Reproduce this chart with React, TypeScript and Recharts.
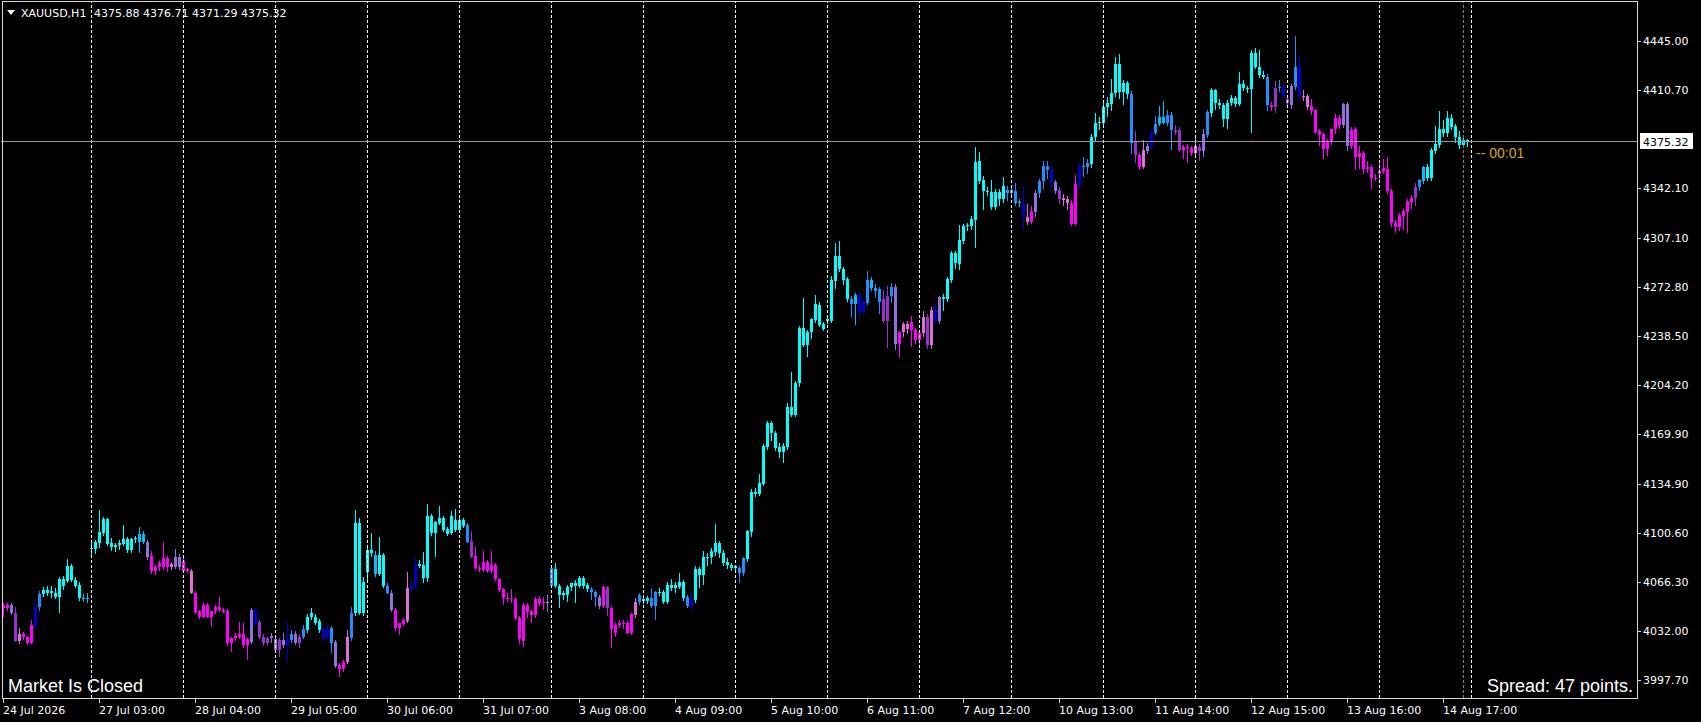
import React from "react";
import { ComposedChart, Bar, XAxis, YAxis, ReferenceLine } from "recharts";

// one candle = [open, high, low, close], H1 bars of XAUUSD
type Candle = [number, number, number, number];

const jul24: Candle[] = [
  [4048.0, 4051.5, 4042.2, 4050.4], [4050.4, 4051.8, 4046.0, 4048.0], [4050.4, 4052.0, 4043.5, 4044.5], [4044.5, 4049.2, 4024.5, 4025.4],
  [4025.4, 4034.0, 4023.0, 4030.1], [4030.1, 4031.5, 4026.0, 4027.8], [4027.8, 4029.0, 4022.5, 4023.5], [4023.5, 4039.9, 4022.8, 4036.4],
  [4035.9, 4053.8, 4034.5, 4048.7], [4048.7, 4060.0, 4046.0, 4058.1], [4058.1, 4063.0, 4056.0, 4060.9], [4060.9, 4064.0, 4057.0, 4059.0],
  [4059.0, 4063.5, 4055.5, 4060.4], [4059.0, 4062.0, 4054.5, 4056.2], [4056.2, 4070.0, 4044.5, 4068.6], [4068.6, 4070.5, 4061.0, 4063.7],
  [4067.4, 4082.5, 4066.0, 4077.9], [4077.9, 4079.0, 4066.5, 4067.9], [4067.9, 4070.0, 4062.5, 4063.9], [4064.4, 4066.5, 4053.0, 4055.0],
  [4055.0, 4058.0, 4052.5, 4055.5], [4055.5, 4058.5, 4051.5, 4054.3],
];
const jul27: Candle[] = [
  [4090.3, 4094.7, 4084.2, 4090.3], [4089.8, 4096.0, 4086.0, 4094.5], [4094.0, 4116.9, 4090.0, 4101.5], [4100.6, 4112.2, 4099.0, 4110.6],
  [4110.6, 4111.5, 4092.0, 4093.1], [4094.0, 4097.0, 4088.5, 4090.8], [4090.8, 4094.0, 4087.5, 4092.4], [4092.4, 4096.0, 4089.0, 4094.0],
  [4093.1, 4106.4, 4091.5, 4096.6], [4096.4, 4098.0, 4087.0, 4088.9], [4088.9, 4097.5, 4086.5, 4096.4], [4096.4, 4099.0, 4093.5, 4097.1],
  [4094.5, 4105.2, 4086.6, 4100.1], [4100.1, 4102.0, 4093.0, 4094.5], [4094.5, 4096.0, 4082.0, 4083.8], [4084.7, 4088.0, 4072.0, 4074.4],
  [4074.4, 4078.5, 4071.5, 4077.2], [4076.7, 4081.0, 4074.0, 4079.6], [4077.2, 4094.7, 4075.0, 4083.3], [4083.3, 4085.0, 4073.5, 4077.2],
  [4077.2, 4080.5, 4075.0, 4079.1], [4076.7, 4089.8, 4075.5, 4084.0], [4084.0, 4086.0, 4075.0, 4076.7],
];
const jul28: Candle[] = [
  [4081.4, 4083.0, 4073.0, 4074.4], [4074.4, 4076.0, 4072.5, 4075.4], [4074.2, 4075.5, 4058.0, 4059.0], [4058.5, 4060.0, 4044.0, 4045.7],
  [4045.9, 4047.0, 4040.5, 4042.2], [4042.2, 4052.0, 4041.0, 4050.4], [4050.4, 4051.5, 4041.0, 4042.2], [4042.2, 4046.5, 4035.2, 4045.9],
  [4045.9, 4050.5, 4044.0, 4049.2], [4049.2, 4056.2, 4045.5, 4046.9], [4046.9, 4048.5, 4044.5, 4045.7], [4046.2, 4047.5, 4022.0, 4023.5],
  [4023.5, 4028.0, 4017.7, 4027.1], [4027.1, 4030.5, 4025.5, 4028.9], [4028.2, 4038.7, 4026.5, 4030.1], [4030.1, 4037.5, 4020.5, 4022.4],
  [4022.4, 4027.0, 4011.9, 4026.3], [4024.7, 4048.0, 4023.0, 4046.9], [4046.9, 4048.5, 4036.5, 4038.0], [4038.5, 4040.0, 4026.5, 4028.2],
  [4028.2, 4030.0, 4022.0, 4023.5], [4023.5, 4028.0, 4021.5, 4027.1], [4027.1, 4030.5, 4024.0, 4028.7],
];
const jul29: Candle[] = [
  [4026.3, 4029.0, 4016.5, 4018.9], [4018.9, 4027.5, 4014.0, 4025.9], [4025.9, 4031.0, 4020.5, 4022.4], [4021.7, 4038.7, 4010.7, 4026.3],
  [4025.9, 4033.0, 4024.0, 4030.1], [4030.1, 4032.0, 4022.5, 4024.0], [4024.0, 4030.0, 4020.5, 4028.2], [4028.2, 4036.5, 4026.5, 4033.6],
  [4032.9, 4044.0, 4031.0, 4042.2], [4041.7, 4048.0, 4040.0, 4044.5], [4042.2, 4044.0, 4036.5, 4038.0], [4039.2, 4040.5, 4031.0, 4032.9],
  [4033.6, 4035.0, 4026.0, 4027.5], [4027.5, 4036.5, 4026.0, 4033.6], [4034.3, 4035.5, 4017.0, 4024.0], [4024.5, 4026.0, 4006.0, 4007.9],
  [4008.4, 4010.0, 4000.0, 4005.8], [4005.8, 4012.0, 4003.5, 4010.5], [4010.5, 4033.0, 4009.0, 4027.8], [4027.5, 4048.7, 4025.5, 4044.5],
  [4044.5, 4116.9, 4043.0, 4107.6], [4107.6, 4111.0, 4043.5, 4045.0], [4045.0, 4070.0, 4043.0, 4066.7],
];
const jul30: Candle[] = [
  [4073.7, 4090.5, 4066.0, 4088.9], [4088.9, 4100.8, 4084.0, 4086.6], [4085.4, 4088.0, 4070.0, 4072.1], [4072.1, 4097.7, 4070.5, 4085.4],
  [4085.4, 4087.0, 4062.5, 4063.9], [4063.9, 4066.0, 4058.0, 4059.0], [4059.0, 4061.0, 4045.5, 4046.9], [4046.9, 4048.0, 4032.5, 4034.0],
  [4034.0, 4038.0, 4029.4, 4037.5], [4037.1, 4041.0, 4035.5, 4039.9], [4039.4, 4073.7, 4037.5, 4062.5], [4061.6, 4067.0, 4060.5, 4064.4],
  [4063.9, 4083.8, 4062.5, 4079.1], [4079.1, 4082.0, 4076.0, 4077.7], [4078.4, 4087.7, 4065.5, 4069.1], [4069.1, 4121.1, 4066.5, 4112.7],
  [4112.7, 4114.0, 4099.0, 4100.6], [4100.6, 4109.5, 4084.2, 4108.7], [4108.0, 4119.7, 4106.5, 4111.5], [4111.1, 4113.0, 4101.5, 4102.9],
  [4103.4, 4105.0, 4098.5, 4099.9], [4100.6, 4116.2, 4099.5, 4112.7], [4109.9, 4117.4, 4101.5, 4102.9],
];
const jul31: Candle[] = [
  [4102.9, 4111.5, 4101.0, 4109.9], [4109.9, 4111.5, 4104.5, 4105.9], [4106.4, 4108.0, 4093.5, 4094.7], [4095.2, 4102.2, 4083.0, 4084.2],
  [4084.7, 4091.2, 4075.0, 4076.5], [4076.5, 4078.5, 4073.5, 4075.4], [4074.9, 4088.2, 4073.5, 4080.7], [4080.7, 4082.0, 4073.0, 4074.4],
  [4074.4, 4088.2, 4072.5, 4078.4], [4078.4, 4080.0, 4067.0, 4068.4], [4068.4, 4069.5, 4059.5, 4060.9], [4061.3, 4062.5, 4050.5, 4055.5],
  [4055.5, 4059.0, 4052.5, 4054.6], [4054.6, 4061.3, 4051.5, 4055.5], [4054.6, 4056.0, 4040.0, 4041.5], [4041.5, 4043.0, 4022.8, 4026.3],
  [4025.4, 4051.5, 4021.2, 4050.4], [4050.4, 4052.0, 4041.5, 4045.7], [4046.2, 4047.0, 4037.5, 4043.4], [4043.4, 4056.0, 4041.0, 4054.6],
  [4054.6, 4057.0, 4049.5, 4051.6], [4051.6, 4055.8, 4047.0, 4052.2], [4052.2, 4057.4, 4045.7, 4052.7],
];
const aug03: Candle[] = [
  [4063.7, 4077.0, 4062.0, 4076.1], [4075.6, 4079.6, 4062.5, 4063.7], [4063.7, 4065.0, 4048.5, 4057.4], [4057.4, 4060.0, 4054.0, 4058.6],
  [4057.4, 4064.5, 4052.5, 4063.2], [4063.2, 4066.0, 4060.5, 4065.6], [4065.6, 4068.0, 4051.5, 4063.9], [4063.7, 4071.0, 4062.0, 4069.1],
  [4069.1, 4070.5, 4061.5, 4063.7], [4064.4, 4066.0, 4059.5, 4061.3], [4061.3, 4063.0, 4054.0, 4059.7], [4059.7, 4061.0, 4049.2, 4055.8],
  [4056.2, 4057.5, 4047.5, 4049.7], [4049.7, 4064.0, 4048.0, 4062.8], [4062.8, 4064.0, 4043.0, 4048.1], [4048.1, 4049.5, 4020.0, 4033.3],
  [4031.0, 4038.0, 4028.0, 4036.4], [4036.4, 4040.0, 4034.0, 4037.5], [4037.5, 4039.9, 4033.5, 4036.8], [4037.5, 4039.0, 4030.0, 4031.0],
  [4031.0, 4044.5, 4029.5, 4043.9], [4043.4, 4055.0, 4041.5, 4052.2], [4052.2, 4059.0, 4050.5, 4057.4],
];
const aug04: Candle[] = [
  [4054.6, 4057.5, 4051.0, 4053.4], [4053.4, 4056.5, 4051.0, 4055.0], [4055.0, 4062.0, 4048.5, 4049.7], [4049.7, 4060.5, 4040.0, 4059.7],
  [4059.7, 4062.5, 4056.5, 4058.6], [4059.7, 4061.0, 4051.0, 4052.7], [4052.7, 4066.5, 4051.0, 4064.4], [4064.4, 4068.5, 4060.0, 4062.0],
  [4062.0, 4066.5, 4058.5, 4064.4], [4063.2, 4073.0, 4061.5, 4066.7], [4066.7, 4068.0, 4053.5, 4055.0], [4056.2, 4057.5, 4048.0, 4049.7],
  [4049.7, 4060.9, 4046.0, 4054.6], [4053.9, 4077.5, 4052.0, 4075.6], [4075.6, 4077.0, 4062.5, 4071.4], [4071.4, 4088.0, 4064.5, 4084.2],
  [4084.2, 4086.5, 4077.5, 4083.0], [4083.8, 4090.0, 4079.0, 4088.2], [4087.7, 4106.9, 4085.0, 4094.0], [4094.0, 4095.5, 4083.0, 4087.0],
  [4087.0, 4089.0, 4077.5, 4080.0], [4080.7, 4083.5, 4075.5, 4078.4], [4078.4, 4080.0, 4074.5, 4076.1],
];
const aug05: Candle[] = [
  [4076.1, 4078.0, 4073.5, 4077.5], [4076.1, 4077.5, 4066.0, 4073.0], [4073.0, 4084.0, 4070.5, 4083.1], [4082.6, 4103.0, 4080.5, 4102.2],
  [4101.7, 4131.5, 4098.0, 4129.3], [4129.3, 4132.0, 4126.0, 4128.1], [4128.1, 4142.1, 4126.5, 4135.6], [4135.1, 4163.0, 4133.5, 4161.7],
  [4160.8, 4179.5, 4159.0, 4177.6], [4177.6, 4179.0, 4165.5, 4171.1], [4171.1, 4172.5, 4158.0, 4160.1], [4160.8, 4163.5, 4153.0, 4157.8],
  [4157.8, 4163.5, 4150.1, 4161.7], [4160.8, 4191.5, 4159.0, 4188.8], [4188.8, 4213.3, 4182.0, 4183.5], [4183.5, 4207.0, 4182.0, 4205.6],
  [4205.6, 4246.0, 4203.0, 4244.1], [4244.1, 4265.1, 4231.0, 4232.5], [4232.5, 4243.0, 4224.3, 4241.8], [4241.8, 4251.5, 4236.5, 4250.4],
  [4250.0, 4267.5, 4248.0, 4260.9], [4260.5, 4262.5, 4245.0, 4246.5], [4247.2, 4248.5, 4242.5, 4243.7],
];
const aug06: Candle[] = [
  [4249.3, 4252.0, 4247.5, 4250.4], [4249.5, 4281.0, 4248.0, 4278.0], [4277.5, 4303.6, 4272.0, 4294.8], [4294.8, 4305.0, 4283.5, 4285.4],
  [4285.4, 4287.0, 4274.5, 4278.0], [4278.5, 4280.0, 4262.5, 4264.7], [4264.7, 4266.5, 4252.3, 4261.2], [4261.2, 4269.0, 4246.5, 4267.5],
  [4267.5, 4269.0, 4251.5, 4255.8], [4255.8, 4264.0, 4254.0, 4262.8], [4262.1, 4284.3, 4260.5, 4278.0], [4278.0, 4280.0, 4270.0, 4272.1],
  [4272.1, 4275.0, 4266.0, 4270.5], [4271.4, 4273.0, 4254.0, 4262.8], [4264.4, 4271.0, 4248.0, 4249.3], [4249.3, 4274.0, 4230.6, 4266.8],
  [4266.8, 4276.0, 4262.0, 4273.3], [4273.3, 4275.5, 4229.0, 4233.2], [4233.2, 4242.5, 4223.1, 4241.6], [4241.6, 4248.5, 4238.0, 4247.2],
  [4243.4, 4249.0, 4240.0, 4247.2], [4248.8, 4252.5, 4231.0, 4243.0], [4243.0, 4244.5, 4233.5, 4236.0],
];
const aug07: Candle[] = [
  [4236.0, 4241.5, 4232.5, 4240.6], [4240.6, 4256.0, 4238.0, 4252.3], [4252.3, 4254.0, 4230.0, 4232.5], [4232.5, 4259.0, 4230.0, 4257.0],
  [4257.0, 4262.0, 4247.0, 4249.3], [4249.3, 4266.5, 4247.5, 4265.8], [4265.8, 4268.0, 4256.0, 4264.4], [4264.4, 4280.0, 4262.5, 4278.5],
  [4278.0, 4298.0, 4276.0, 4296.6], [4296.6, 4298.5, 4286.0, 4289.6], [4289.2, 4316.5, 4285.0, 4306.0], [4305.5, 4317.0, 4303.0, 4315.8],
  [4315.8, 4318.0, 4312.5, 4316.5], [4315.8, 4323.0, 4313.0, 4320.5], [4320.0, 4371.3, 4300.1, 4360.8], [4361.3, 4367.8, 4345.0, 4347.5],
  [4348.0, 4350.5, 4327.0, 4340.5], [4340.5, 4343.0, 4337.0, 4339.4], [4339.8, 4348.0, 4327.0, 4328.9], [4328.9, 4342.0, 4327.0, 4339.4],
  [4339.4, 4341.5, 4330.0, 4334.7], [4334.5, 4350.0, 4332.0, 4343.8], [4341.0, 4344.0, 4333.5, 4338.7],
];
const aug10: Candle[] = [
  [4338.7, 4343.5, 4336.5, 4341.0], [4340.5, 4346.0, 4330.0, 4332.1], [4332.1, 4334.5, 4329.0, 4332.8], [4332.1, 4343.0, 4313.0, 4321.9],
  [4321.9, 4331.0, 4316.5, 4318.8], [4318.8, 4330.0, 4317.0, 4326.3], [4325.8, 4341.0, 4322.0, 4339.1], [4338.7, 4349.0, 4335.5, 4347.5],
  [4347.5, 4361.3, 4342.0, 4357.8], [4357.8, 4361.0, 4349.0, 4355.0], [4355.0, 4357.5, 4342.5, 4346.1], [4346.6, 4348.0, 4338.0, 4340.5],
  [4341.0, 4343.0, 4331.5, 4335.0], [4335.6, 4338.0, 4330.0, 4334.0], [4334.7, 4336.5, 4327.0, 4331.7], [4332.1, 4334.0, 4316.0, 4317.2],
  [4317.2, 4351.5, 4315.5, 4345.2], [4344.5, 4360.0, 4342.0, 4357.8], [4357.8, 4364.3, 4350.0, 4356.9], [4356.9, 4362.5, 4352.0, 4359.7],
  [4359.2, 4380.0, 4356.5, 4378.3], [4377.9, 4394.7, 4375.5, 4387.7], [4387.7, 4392.0, 4383.0, 4388.9],
];
const aug11: Candle[] = [
  [4388.1, 4403.0, 4384.5, 4398.9], [4398.9, 4406.0, 4392.0, 4402.2], [4401.2, 4418.5, 4396.0, 4408.7], [4408.7, 4433.9, 4406.0, 4429.2],
  [4429.2, 4436.2, 4404.5, 4409.9], [4409.9, 4418.0, 4400.5, 4415.7], [4415.7, 4417.5, 4405.0, 4408.2], [4408.2, 4410.0, 4366.0, 4374.1],
  [4374.9, 4382.3, 4360.0, 4365.5], [4365.5, 4367.0, 4355.0, 4356.9], [4356.9, 4376.0, 4355.5, 4369.0], [4368.5, 4374.0, 4366.0, 4371.8],
  [4371.3, 4383.0, 4369.5, 4381.8], [4381.1, 4392.8, 4379.5, 4387.2], [4387.2, 4399.8, 4385.5, 4391.9], [4391.9, 4403.3, 4387.0, 4388.1],
  [4388.1, 4397.0, 4386.0, 4393.5], [4393.5, 4395.5, 4369.0, 4383.0], [4383.0, 4386.5, 4379.5, 4381.8], [4383.0, 4385.0, 4367.5, 4369.0],
  [4369.0, 4372.5, 4363.0, 4371.3], [4371.3, 4373.0, 4360.0, 4370.2], [4370.2, 4371.5, 4365.0, 4366.7],
];
const aug12: Candle[] = [
  [4366.7, 4378.0, 4365.0, 4371.8], [4370.9, 4373.0, 4361.3, 4368.5], [4368.5, 4383.5, 4364.0, 4380.2], [4379.5, 4397.0, 4377.5, 4395.9],
  [4395.1, 4412.5, 4392.0, 4411.0], [4411.0, 4412.0, 4397.0, 4401.7], [4401.7, 4405.0, 4397.5, 4400.5], [4400.5, 4402.0, 4385.0, 4390.5],
  [4390.5, 4404.0, 4384.0, 4402.2], [4401.7, 4407.5, 4399.5, 4405.2], [4405.2, 4407.0, 4399.0, 4401.2], [4401.2, 4423.9, 4399.5, 4415.2],
  [4415.2, 4418.0, 4410.5, 4412.2], [4412.2, 4414.0, 4409.0, 4411.5], [4411.5, 4439.0, 4381.1, 4437.2], [4437.2, 4440.2, 4425.5, 4426.9],
  [4427.4, 4439.0, 4419.5, 4421.5], [4421.5, 4424.0, 4418.5, 4419.9], [4420.4, 4422.0, 4396.0, 4400.5], [4400.5, 4402.5, 4396.0, 4398.9],
  [4398.9, 4417.6, 4395.0, 4412.2], [4412.2, 4418.0, 4409.5, 4413.4], [4413.4, 4414.5, 4404.5, 4407.1],
];
const aug13: Candle[] = [
  [4404.7, 4406.0, 4399.0, 4401.7], [4400.5, 4415.0, 4398.0, 4413.8], [4413.4, 4448.8, 4411.0, 4427.4], [4427.4, 4434.8, 4405.0, 4407.1],
  [4407.1, 4411.0, 4403.5, 4406.4], [4406.8, 4408.0, 4397.0, 4399.4], [4399.8, 4405.0, 4393.5, 4396.6], [4397.0, 4398.0, 4380.0, 4381.8],
  [4382.3, 4384.0, 4372.0, 4379.5], [4380.0, 4381.5, 4363.0, 4369.5], [4369.5, 4377.0, 4365.0, 4374.9], [4374.9, 4384.0, 4372.5, 4383.5],
  [4383.5, 4394.0, 4380.5, 4391.2], [4391.2, 4393.5, 4384.0, 4386.5], [4386.5, 4402.0, 4384.5, 4401.2], [4401.2, 4402.5, 4368.5, 4372.0],
  [4372.0, 4385.0, 4369.5, 4383.0], [4383.5, 4385.0, 4355.0, 4364.3], [4364.3, 4372.0, 4355.5, 4366.7], [4366.7, 4368.0, 4352.0, 4355.5],
  [4355.5, 4361.0, 4353.0, 4357.3], [4356.9, 4358.5, 4342.0, 4349.6], [4349.6, 4352.0, 4347.0, 4349.6],
];
const aug14: Candle[] = [
  [4352.2, 4362.0, 4348.0, 4354.3], [4354.3, 4362.5, 4352.0, 4356.2], [4355.5, 4364.0, 4338.0, 4340.3], [4340.3, 4341.5, 4315.0, 4317.7],
  [4318.1, 4320.0, 4310.7, 4314.9], [4315.3, 4325.0, 4312.0, 4323.3], [4322.8, 4327.5, 4313.0, 4326.3], [4325.8, 4335.0, 4310.7, 4333.3],
  [4332.8, 4337.5, 4328.0, 4335.6], [4335.2, 4346.0, 4330.0, 4343.3], [4343.3, 4349.0, 4340.0, 4348.0], [4347.5, 4358.0, 4345.0, 4357.3],
  [4357.3, 4359.0, 4347.0, 4349.2], [4349.2, 4370.5, 4347.0, 4369.0], [4368.5, 4385.8, 4366.5, 4373.2], [4372.5, 4396.6, 4370.5, 4383.7],
  [4383.7, 4390.0, 4378.0, 4380.7], [4380.7, 4396.6, 4378.0, 4391.2], [4391.2, 4394.5, 4383.0, 4385.4], [4385.8, 4387.5, 4374.0, 4377.9],
  [4377.9, 4382.5, 4370.0, 4372.5], [4372.5, 4378.0, 4370.5, 4376.0], [4375.88, 4376.71, 4371.29, 4375.32],
];

// indicator colour of each candle, one letter per bar, one string per day
const dayColors = [
  "mmpormmmbdccccccccccss",
  "ccccccccccccsspmmmmmrpp",
  "mmrmmmmmmmmmmmmmmpbooop",
  "popbdpodccccbbdpmmrdccc",
  "ccsccdpmmmrbbcccccccccc",
  "ccdommmmmmmmmmmmmmmmmmp",
  "dcccccccccddpmommmmmmrd",
  "ccddcccccccdbcccccccccc",
  "cddcccccccccccccccccccc",
  "ccccccdsbbdsddoodpmrrmm",
  "mrorbpccccccccccccccccd",
  "ddsbrmpdddbporrmmbddccc",
  "cccccccdomrpbdssddoommm",
  "ropdccccccccccccccdmodb",
  "opdbrrmmmmmmmmppmmmmmmm",
  "mmmmmmmmmodsccccccccccc",
];

const palette: Record<string, string> = {
  c: "#00FFFF",
  s: "#00BFFF",
  d: "#1E90FF",
  b: "#0000CD",
  p: "#9370DB",
  o: "#9932CC",
  r: "#DA70D6",
  m: "#FF00FF",
};

const timeLabels = [
  "24 Jul 2026", "27 Jul 03:00", "28 Jul 04:00", "29 Jul 05:00", "30 Jul 06:00", "31 Jul 07:00",
  "3 Aug 08:00", "4 Aug 09:00", "5 Aug 10:00", "6 Aug 11:00", "7 Aug 12:00", "10 Aug 13:00",
  "11 Aug 14:00", "12 Aug 15:00", "13 Aug 16:00", "14 Aug 17:00",
];
const priceTicks = [4445.0, 4410.7, 4342.1, 4307.1, 4272.8, 4238.5, 4204.2, 4169.9, 4134.9, 4100.6, 4066.3, 4032.0, 3997.7];
const lastPrice = 4375.32;
const header = { symbol: "XAUUSD,H1", ohlc: "4375.88 4376.71 4371.29 4375.32" };

const days = [jul24, jul27, jul28, jul29, jul30, jul31, aug03, aug04, aug05, aug06, aug07, aug10, aug11, aug12, aug13, aug14];
const candles = days.flat();
const colorCodes = dayColors.join("");
const SLOTS = 409; // visible bar slots, the rest is chart shift

const data = Array.from({ length: SLOTS }, (_, i) => {
  const k = candles[i];
  if (!k) return { i };
  const [o, h, l, c] = k;
  return { i, o, h, l, c, range: [l, h], color: palette[colorCodes[i]] || "#00FFFF" };
});

// day separators: first bar of every session after the first
const separators: number[] = [];
let acc = 0;
days.forEach((d) => {
  acc += d.length;
  separators.push(acc);
});
const tickBars = timeLabels.map((_, k) => k * 24);

const FONT = "DejaVu Sans, sans-serif";

function CandleShape(props: any) {
  const { x, y, height, payload } = props;
  if (!payload || payload.h == null) return null;
  const { o, h, l, c, color } = payload;
  const k = h > l ? height / (h - l) : 0;
  const left = Math.round(x);
  const top = Math.round(y);
  const bottom = Math.max(Math.round(y + height), top + 1);
  const bTop = Math.round(y + (h - Math.max(o, c)) * k);
  const bBot = Math.max(Math.round(y + (h - Math.min(o, c)) * k), bTop + 1);
  return (
    <g>
      <rect x={left + 2} y={top} width={1} height={bottom - top} fill={color} />
      <rect x={left + 1} y={bTop} width={3} height={bBot - bTop} fill={color} />
    </g>
  );
}

function TimeTick(props: any) {
  const { x, payload } = props;
  const idx = tickBars.indexOf(payload.value);
  const px = Math.round(x) + 0.5;
  return (
    <g>
      <line x1={px} x2={px} y1={699} y2={703} stroke="#d8d8d8" />
      <text x={x} y={714} fill="#ffffff" fontSize={11} fontFamily={FONT}>
        {timeLabels[idx]}
      </text>
    </g>
  );
}

function PriceTick(props: any) {
  const { y, payload } = props;
  const py = Math.round(y) + 0.5;
  return (
    <g>
      <line x1={1638} x2={1641} y1={py} y2={py} stroke="#d8d8d8" />
      <text x={1643} y={y + 4} fill="#ffffff" fontSize={11} fontFamily={FONT}>
        {Number(payload.value).toFixed(2)}
      </text>
    </g>
  );
}

function Separator(props: any) {
  const px = Math.round(props.x1) + 0.5;
  return <line x1={px} x2={px} y1={props.y1} y2={props.y2} stroke={props.stroke} strokeDasharray="3 2" />;
}

function PriceLine(props: any) {
  const py = Math.round(props.y1) + 0.5;
  const right = Math.max(props.x1, props.x2);
  const left = Math.min(props.x1, props.x2);
  return (
    <g>
      <line x1={left} x2={right} y1={py} y2={py} stroke="#8f9aa6" />
      <rect x={right + 3} y={py - 8.5} width={53} height={16} fill="#ffffff" />
      <text x={right + 6} y={py + 4} fill="#000000" fontSize={11} fontFamily={FONT}>
        {lastPrice.toFixed(2)}
      </text>
      <text x={1476} y={py + 16} fill="#DAA520" fontSize={14} fontFamily="Liberation Sans, sans-serif">
        -- 00:01
      </text>
    </g>
  );
}

export default function App() {
  return (
    <div style={{ position: "absolute", left: 0, top: 0, width: 1701, height: 722, background: "#000", overflow: "hidden" }}>
      <ComposedChart
        width={1701}
        height={722}
        data={data}
        margin={{ top: 2, right: 0, bottom: 0, left: 1 }}
        barCategoryGap={0}
        barGap={0}
      >
        <XAxis
          dataKey="i"
          type="category"
          ticks={tickBars}
          interval={0}
          height={24}
          axisLine={false}
          tickLine={false}
          tick={<TimeTick />}
        />
        <YAxis
          orientation="right"
          type="number"
          width={64}
          domain={[3985.26, 4472.66]}
          allowDataOverflow
          ticks={priceTicks}
          interval={0}
          axisLine={false}
          tickLine={false}
          tick={<PriceTick />}
        />
        {separators.map((s) => (
          <ReferenceLine key={s} x={s} stroke="#ffffff" shape={<Separator />} />
        ))}
        <ReferenceLine x={separators[separators.length - 1] - 2} stroke="#808080" shape={<Separator />} />
        <Bar dataKey="range" isAnimationActive={false} shape={<CandleShape />} />
        <ReferenceLine y={lastPrice} stroke="#8f9aa6" shape={<PriceLine />} />
      </ComposedChart>
      <svg width={1701} height={722} style={{ position: "absolute", left: 0, top: 0, pointerEvents: "none" }}>
        <rect x={2.5} y={1.5} width={1635} height={697} fill="none" stroke="#d8d8d8" />
        <polygon points="7,10 15,10 11,15" fill="#ffffff" />
        <text x={21} y={17} fill="#ffffff" fontSize={11} fontFamily={FONT}>
          {header.symbol}
        </text>
        <text x={94} y={17} fill="#ffffff" fontSize={11} fontFamily={FONT}>
          {header.ohlc}
        </text>
        <text x={8} y={692} fill="#ffffff" fontSize={18} fontFamily="Liberation Sans, sans-serif">
          Market Is Closed
        </text>
        <text x={1633} y={692} fill="#ffffff" fontSize={18} textAnchor="end" fontFamily="Liberation Sans, sans-serif">
          Spread: 47 points.
        </text>
      </svg>
    </div>
  );
}
